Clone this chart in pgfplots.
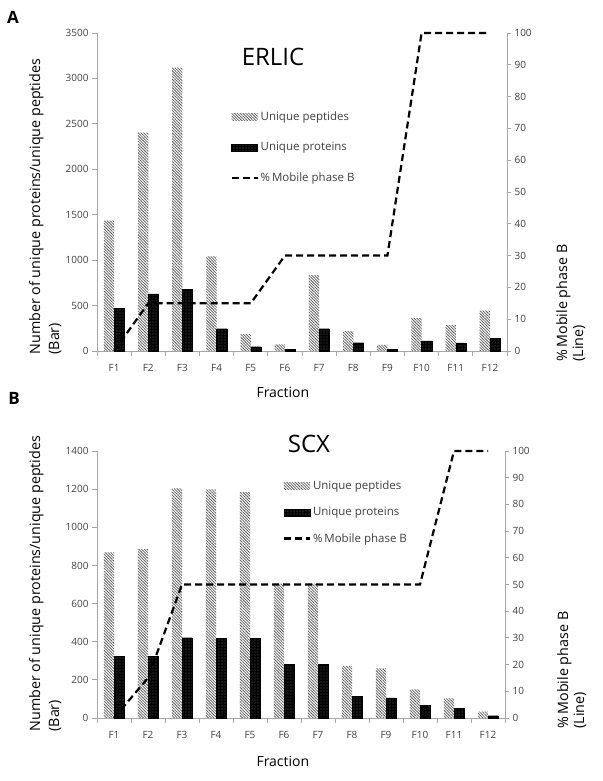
\documentclass[border=0pt]{standalone}
\usepackage{fontspec}
\setmainfont{Open Sans}
\usepackage{pgfplots}
\pgfplotsset{compat=1.18}
\usetikzlibrary{patterns.meta}
\definecolor{axisgray}{HTML}{A6A6A6}
\definecolor{ticktext}{HTML}{404040}

\pgfplotsset{
  panel/.style={
    scale only axis, xmin=0.5, xmax=12.5, ymin=0, clip=false,
    axis line style={axisgray, line width=0.8pt},
    tick style={axisgray, line width=0.8pt},
    tick align=outside, major tick length=4pt,
    ticklabel style={font=\fontsize{10}{12}\selectfont, text=ticktext},
    /pgf/number format/assume math mode=true,
    /pgf/number format/1000 sep={},
  },
  barpanel/.style={panel,
    axis x line*=bottom, axis y line*=left,
    xtick={0.5,1.5,...,12.5}, xticklabels={},
    major tick length=5pt,
    extra x ticks={1,...,12},
    extra x tick labels={F1,F2,F3,F4,F5,F6,F7,F8,F9,F10,F11,F12},
    extra x tick style={major tick length=0pt, xticklabel style={yshift=-10pt}},
    ybar=0pt, bar width=0.3,
    legend style={draw=none, fill=none, anchor=north west,
      font=\fontsize{11.5}{13}\selectfont, text=ticktext,
      inner sep=0pt,
      /tikz/every even column/.append style={column sep=3pt}},
    legend cell align=left,
  },
  linepanel/.style={panel,
    axis x line=none, axis y line*=right,
    ymax=100, ytick={0,10,...,100},
  },
  pepbar/.style={draw=none, bar shift=-0.15,
    pattern={Lines[angle=-45,distance=2pt,line width=0.75pt]}, pattern color=black!65,
    legend image code/.code={\path[##1] (0pt,-3.5pt) rectangle (26pt,3.5pt);}},
  protbar/.style={fill=black, draw=black, bar shift=0.15,
    postaction={pattern={Dots[distance=3pt,radius=0.45pt]}, pattern color=white},
    legend image code/.code={\path[##1] (0pt,-3.5pt) rectangle (26pt,3.5pt);}},
  gradline/.style={black, line width=2.2pt, dash pattern=on 7pt off 4pt},
  lineleg/.style={legend image code/.code={\draw[##1] (0pt,0pt) -- (26pt,0pt);}},
}

\pgfplotstableread{
x pep prot
1 1434 473
2 2403 630
3 3118 679
4 1042 245
5 187 47
6 74 15
7 836 245
8 220 91
9 66 20
10 363 110
11 286 88
12 443 143
}\erlic

\pgfplotstableread{
x pep prot
1 869 322
2 886 325
3 1204 421
4 1199 416
5 1185 416
6 705 283
7 705 281
8 273 115
9 260 106
10 150 68
11 103 51
12 33 12
}\scx

\begin{document}
\begin{tikzpicture}
\path[use as bounding box] (0pt,0pt) rectangle (602pt,781pt);

% ---------- panel A: ERLIC ----------
\begin{axis}[barpanel, at={(97pt,430pt)}, anchor=south west,
  width=410pt, height=318pt, ymax=3500, ytick={0,500,...,3500},
  legend style={at={(rel axis cs:0.325,0.76)}, row sep=16.5pt}]
  \addplot[pepbar] table[x=x,y=pep] {\erlic};
  \addlegendentry{Unique peptides}
  \addplot[protbar] table[x=x,y=prot] {\erlic};
  \addlegendentry{Unique proteins}
  \addlegendimage{gradline, lineleg}
  \addlegendentry{\%\,Mobile phase B}
\end{axis}
\begin{axis}[linepanel, at={(97pt,430pt)}, anchor=south west,
  width=410pt, height=318pt]
  \addplot[gradline] coordinates {(1,0) (2,15) (3,15) (4,15) (5,15) (6,30)
    (7,30) (8,30) (9,30) (10,100) (11,100) (12,100)};
\end{axis}

\node[font=\fontsize{17}{20}\selectfont\bfseries] at (13pt,764pt) {A};
\node[font=\fontsize{24}{28}\selectfont] at (273pt,724pt) {ERLIC};
\node[font=\fontsize{14}{16}\selectfont, anchor=base west] at (253pt,383pt) {Fraction};
\node[font=\fontsize{14.3}{16}\selectfont, rotate=90, anchor=base west] at (40pt,423pt) {Number of unique proteins/unique peptides};
\node[font=\fontsize{14.3}{16}\selectfont, rotate=90, anchor=base west] at (59pt,423pt) {(Bar)};
\node[font=\fontsize{14.3}{16}\selectfont, rotate=90, anchor=base west] at (567pt,416pt) {\%\,Mobile phase B};
\node[font=\fontsize{14.3}{16}\selectfont, rotate=90, anchor=base west] at (583pt,416pt) {(Line)};

% ---------- panel B: SCX ----------
\begin{axis}[barpanel, at={(97pt,63pt)}, anchor=south west,
  width=408pt, height=267pt, ymax=1400, ytick={0,200,...,1400},
  legend style={at={(rel axis cs:0.455,0.895)}, row sep=12pt}]
  \addplot[pepbar] table[x=x,y=pep] {\scx};
  \addlegendentry{Unique peptides}
  \addplot[protbar] table[x=x,y=prot] {\scx};
  \addlegendentry{Unique proteins}
  \addlegendimage{gradline, lineleg}
  \addlegendentry{\%\,Mobile phase B}
\end{axis}
\begin{axis}[linepanel, at={(97pt,63pt)}, anchor=south west,
  width=408pt, height=267pt]
  \addplot[gradline] coordinates {(1,0) (2,15) (3,50) (4,50) (5,50) (6,50)
    (7,50) (8,50) (9,50) (10,50) (11,100) (12,100)};
\end{axis}

\node[font=\fontsize{17}{20}\selectfont\bfseries] at (14pt,383pt) {B};
\node[font=\fontsize{24}{28}\selectfont] at (309pt,337pt) {SCX};
\node[font=\fontsize{14}{16}\selectfont, anchor=base west] at (253pt,14pt) {Fraction};
\node[font=\fontsize{14.3}{16}\selectfont, rotate=90, anchor=base west] at (40pt,46pt) {Number of unique proteins/unique peptides};
\node[font=\fontsize{14.3}{16}\selectfont, rotate=90, anchor=base west] at (59pt,46pt) {(Bar)};
\node[font=\fontsize{14.3}{16}\selectfont, rotate=90, anchor=base west] at (568pt,49pt) {\%\,Mobile phase B};
\node[font=\fontsize{14.3}{16}\selectfont, rotate=90, anchor=base west] at (584pt,49pt) {(Line)};
\end{tikzpicture}
\end{document}
